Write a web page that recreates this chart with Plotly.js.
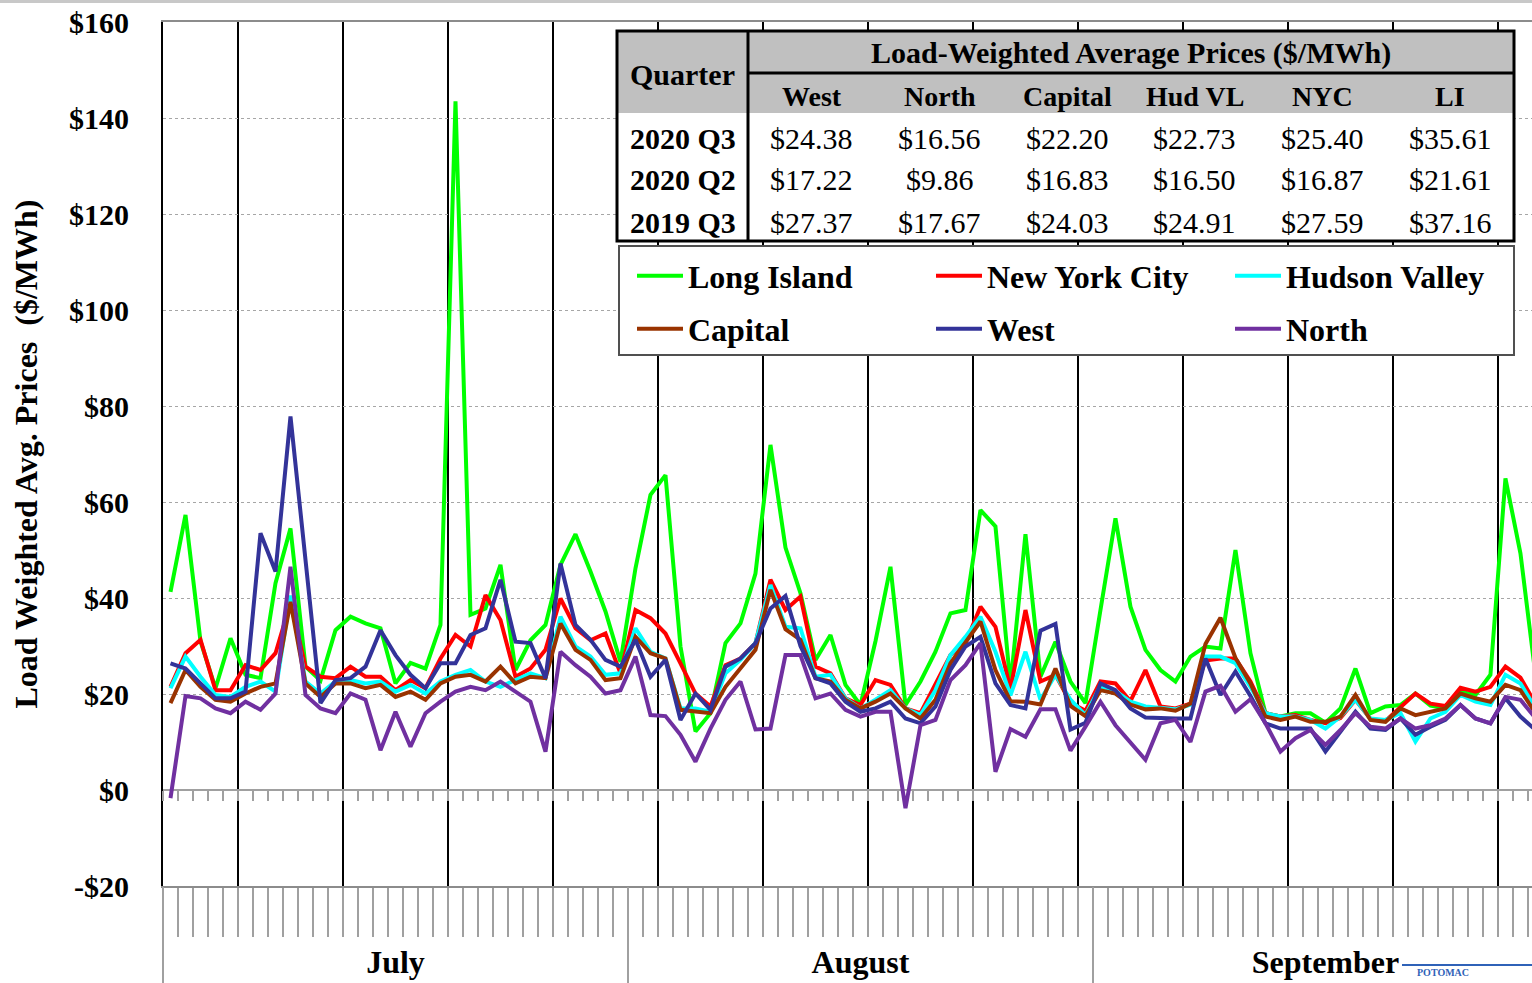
<!DOCTYPE html>
<html>
<head>
<meta charset="utf-8">
<script src="https://cdn.plot.ly/plotly-3.0.1.min.js"></script>
<style>
  html, body { margin: 0; padding: 0; background: #fff; overflow: hidden; }
  #chart { width: 1532px; height: 983px; }
</style>
</head>
<body>
<div id="chart"></div>
<script>
// Daily load-weighted average prices ($/MWh), Jul 1 - Sep 30 2020
const DAY = 86400000;
const dates = [];
for (let i = 0; i < 92; i++) {
    dates.push(new Date(Date.UTC(2020, 6, 1 + i, 12)).toISOString().slice(0, 10) + ' 12:00');
}

const longIsland = [
    41.3, 57.3, 31.0, 21.2, 31.6, 24.0, 23.3, 43.1, 54.5, 25.7,
    22.8, 33.3, 36.1, 34.7, 33.7, 22.2, 26.5, 25.3, 34.4, 143.5,
    36.5, 37.8, 46.9, 25.0, 31.2, 34.4, 46.9, 53.3, 45.5, 37.2,
    26.7, 46.2, 61.5, 65.6, 29.9, 12.2, 16.0, 30.6, 34.7, 45.1,
    71.9, 50.5, 41.0, 27.1, 32.3, 21.9, 17.7, 31.0, 46.5, 17.7,
    22.6, 28.8, 36.8, 37.5, 58.3, 54.9, 21.9, 53.3, 23.6, 30.9,
    22.6, 18.1, 37.5, 56.6, 38.2, 29.2, 25.0, 22.6, 27.8, 29.9,
    29.5, 50.0, 28.5, 16.0, 15.3, 16.0, 16.0, 14.0, 17.0, 25.3,
    16.0, 17.4, 17.7, 20.1, 17.6, 17.0, 20.5, 19.8, 24.0, 64.9,
    49.3, 24.0
];
const newYorkCity = [
    21.5, 28.5, 31.3, 20.8, 20.8, 26.0, 25.0, 28.5, 39.0, 25.7,
    23.6, 23.3, 25.7, 23.6, 23.6, 20.8, 22.9, 21.2, 27.4, 32.3,
    29.9, 40.6, 35.4, 23.6, 25.3, 29.2, 39.9, 33.7, 31.2, 32.6,
    24.3, 37.5, 35.8, 32.6, 26.4, 20.1, 17.4, 26.0, 27.4, 30.6,
    43.8, 37.5, 40.3, 25.7, 24.3, 19.1, 17.7, 22.9, 21.9, 17.0,
    16.0, 22.2, 28.1, 30.6, 38.2, 34.0, 21.0, 37.5, 22.6, 24.0,
    18.2, 16.5, 22.6, 22.2, 18.5, 25.0, 17.4, 17.0, 18.0, 27.0,
    27.4, 27.4, 22.6, 16.0, 15.3, 15.6, 14.6, 13.9, 15.0, 18.8,
    14.8, 14.4, 17.3, 20.1, 18.0, 17.5, 21.3, 20.5, 21.5, 25.7,
    23.4, 18.0
];
const hudsonValley = [
    21.2, 27.8, 23.6, 19.8, 19.4, 21.5, 22.6, 20.5, 40.5, 22.6,
    20.1, 22.6, 22.9, 22.2, 22.6, 20.5, 21.9, 20.1, 22.6, 24.0,
    25.0, 22.6, 21.5, 22.9, 24.3, 23.3, 36.1, 29.9, 27.8, 24.0,
    24.3, 33.7, 28.8, 27.4, 17.0, 17.0, 16.3, 24.3, 27.1, 30.6,
    42.7, 34.0, 33.7, 23.6, 24.0, 19.1, 17.0, 18.8, 20.8, 17.0,
    15.6, 20.8, 28.1, 31.9, 36.1, 28.8, 19.7, 28.8, 18.8, 24.0,
    18.8, 15.6, 21.7, 20.6, 18.4, 17.4, 17.2, 16.8, 17.8, 27.8,
    27.8, 26.4, 21.5, 16.0, 15.3, 15.3, 14.6, 12.8, 15.3, 18.8,
    14.9, 14.6, 16.0, 10.1, 14.9, 16.3, 19.8, 18.4, 17.7, 24.0,
    22.2, 17.0
];
const capital = [
    18.1, 25.0, 21.5, 18.8, 18.4, 20.1, 21.5, 22.2, 39.2, 22.2,
    19.4, 22.2, 22.2, 21.2, 21.9, 19.4, 20.5, 18.8, 22.2, 23.6,
    24.0, 22.6, 25.7, 22.2, 23.6, 23.3, 34.7, 29.2, 27.1, 22.9,
    23.3, 31.9, 28.5, 27.4, 16.7, 16.3, 16.0, 21.5, 25.3, 29.2,
    41.7, 33.5, 31.3, 23.3, 22.6, 18.8, 17.0, 18.4, 20.1, 17.0,
    14.9, 18.8, 26.4, 30.6, 35.1, 25.0, 18.5, 18.4, 17.8, 25.3,
    17.5, 15.4, 20.8, 20.1, 17.8, 16.8, 17.0, 16.5, 18.0, 30.4,
    35.9, 27.5, 22.2, 15.3, 14.6, 15.3, 14.2, 14.2, 15.3, 19.8,
    14.6, 14.2, 17.0, 15.6, 16.3, 17.0, 20.1, 19.1, 18.4, 21.9,
    20.8, 16.0
];
const west = [
    26.4, 25.3, 22.2, 19.1, 19.1, 20.5, 53.5, 45.5, 77.8, 47.0,
    18.1, 22.9, 23.3, 25.7, 33.3, 28.1, 24.0, 21.2, 26.4, 26.4,
    32.3, 33.7, 43.8, 30.9, 30.6, 23.3, 47.2, 34.4, 31.3, 27.1,
    25.7, 31.3, 23.6, 27.1, 14.6, 20.1, 16.7, 25.7, 27.4, 30.6,
    37.8, 40.4, 30.0, 23.3, 22.2, 18.4, 16.3, 17.0, 18.4, 14.9,
    13.9, 17.4, 25.0, 29.9, 31.9, 22.2, 17.7, 17.0, 33.2, 34.6,
    12.6, 14.0, 22.2, 20.8, 17.0, 15.1, 14.9, 14.9, 14.9, 27.4,
    19.8, 24.7, 19.6, 13.9, 12.8, 12.8, 12.8, 8.0, 12.2, 16.3,
    12.8, 12.5, 14.9, 11.5, 13.2, 14.6, 17.7, 14.9, 13.9, 19.1,
    15.3, 12.5
];
const north = [
    -1.7, 19.6, 19.1, 17.0, 16.0, 18.4, 16.7, 20.1, 46.5, 19.8,
    17.0, 16.0, 20.1, 18.8, 8.3, 16.3, 9.0, 16.0, 18.4, 20.5,
    21.5, 20.8, 22.6, 20.5, 18.4, 8.0, 28.8, 26.0, 23.6, 20.1,
    20.8, 27.8, 15.6, 15.4, 11.5, 5.9, 12.8, 18.8, 22.6, 12.6,
    12.8, 28.1, 28.1, 19.1, 20.1, 16.7, 15.3, 16.3, 16.3, -3.8,
    13.5, 14.6, 22.9, 26.0, 30.6, 3.8, 12.7, 11.1, 16.8, 16.8,
    8.2, 13.2, 18.4, 13.5, 9.9, 6.3, 13.9, 14.6, 10.0, 20.5,
    21.7, 16.3, 18.9, 13.9, 8.0, 10.8, 12.5, 9.4, 12.5, 16.0,
    13.2, 12.8, 14.9, 12.8, 13.5, 14.9, 17.7, 14.9, 13.9, 19.4,
    18.8, 15.0
];

// summary table
const quarters = ['2020 Q3', '2020 Q2', '2019 Q3'];
const zones = ['West', 'North', 'Capital', 'Hud VL', 'NYC', 'LI'];
const avg2020Q3 = [24.38, 16.56, 22.20, 22.73, 25.40, 35.61];
const avg2020Q2 = [17.22, 9.86, 16.83, 16.50, 16.87, 21.61];
const avg2019Q3 = [27.37, 17.67, 24.03, 24.91, 27.59, 37.16];

const yTickVals = [-20, 0, 20, 40, 60, 80, 100, 120, 140, 160];
const yTickText = ['-$20', '$0', '$20', '$40', '$60', '$80', '$100', '$120', '$140', '$160'];

const SERIF = '"Liberation Serif", "Times New Roman", serif';

// plot area in pixels: left 163, right 1532, top 22, bottom 886
const px = p => (p - 163) / 1369;
const py = p => (886 - p) / 864;

const series = [
    { name: 'Long Island', y: longIsland, color: '#00ff00', legend: 'legend' },
    { name: 'New York City', y: newYorkCity, color: '#ff0000', legend: 'legend' },
    { name: 'Hudson Valley', y: hudsonValley, color: '#00ffff', legend: 'legend' },
    { name: 'Capital', y: capital, color: '#993300', legend: 'legend2' },
    { name: 'West', y: west, color: '#333399', legend: 'legend2' },
    { name: 'North', y: north, color: '#7030a0', legend: 'legend2' }
];

const traces = series.map(s => ({
    type: 'scatter',
    mode: 'lines',
    x: dates,
    y: s.y,
    name: s.name,
    legend: s.legend,
    line: { color: s.color, width: 4 }
}));

// empty traces so the helper x axes get drawn
['x2', 'x3', 'x4'].forEach(ax => traces.push({
    type: 'scatter', mode: 'lines', x: [], y: [], xaxis: ax, yaxis: 'y',
    showlegend: false, hoverinfo: 'skip'
}));

const xRange = ['2020-07-01 00:00', '2020-09-30 06:30'];
const GRAY = '#a0a0a0';

// table geometry (pixels)
const tbl = { left: 617, right: 1514, top: 31, mid: 73, head: 113, bottom: 241, split: 748 };
const colW = (tbl.right - tbl.split) / zones.length;
const rowY = [138, 180, 222];

const shapes = [
    { type: 'rect', xref: 'paper', yref: 'paper', x0: -163 / 1369, x1: 1, y0: py(3), y1: py(0),
      fillcolor: '#c8c8c8', line: { width: 0 } },
    { type: 'rect', xref: 'paper', yref: 'paper', x0: px(tbl.left), x1: px(tbl.right), y0: py(tbl.bottom), y1: py(tbl.top),
      fillcolor: '#ffffff', line: { width: 0 } },
    { type: 'rect', xref: 'paper', yref: 'paper', x0: px(tbl.left), x1: px(tbl.right), y0: py(tbl.head), y1: py(tbl.top),
      fillcolor: '#c0c0c0', line: { width: 0 } },
    { type: 'line', xref: 'paper', yref: 'paper', x0: px(tbl.split), x1: px(tbl.right), y0: py(tbl.mid), y1: py(tbl.mid),
      line: { color: '#000', width: 3 } },
    { type: 'line', xref: 'paper', yref: 'paper', x0: px(tbl.split), x1: px(tbl.split), y0: py(tbl.bottom), y1: py(tbl.top),
      line: { color: '#000', width: 3 } },
    { type: 'rect', xref: 'paper', yref: 'paper', x0: px(tbl.left), x1: px(tbl.right), y0: py(tbl.bottom), y1: py(tbl.top),
      line: { color: '#000', width: 3 } },
    // legend frame
    { type: 'rect', xref: 'paper', yref: 'paper', x0: px(619), x1: px(1514), y0: py(355), y1: py(246),
      fillcolor: '#ffffff', line: { color: '#505050', width: 2 } },
    // logo rule, bottom right
    { type: 'line', xref: 'paper', yref: 'paper', x0: px(1402), x1: px(1540), y0: py(965), y1: py(965),
      line: { color: '#2f62b8', width: 2 } }
];

function label(text, x, y, size, weight) {
    return {
        xref: 'paper', yref: 'paper', x: px(x), y: py(y),
        xanchor: 'center', yanchor: 'middle', showarrow: false,
        text: text, font: { family: SERIF, size: size, color: '#000', weight: weight }
    };
}

const annotations = [
    label('Quarter', (tbl.left + tbl.split) / 2, 74, 30, 'bold'),
    label('Load-Weighted Average Prices ($/MWh)', (tbl.split + tbl.right) / 2, 53, 30, 'bold')
];
zones.forEach((z, k) => annotations.push(label(z, tbl.split + colW * (k + 0.5), 96, 28, 'bold')));
[avg2020Q3, avg2020Q2, avg2019Q3].forEach((row, r) => {
    annotations.push(label(quarters[r], (tbl.left + tbl.split) / 2, rowY[r], 30, 'bold'));
    row.forEach((v, k) => annotations.push(label('$' + v.toFixed(2), tbl.split + colW * (k + 0.5), rowY[r], 30, 'normal')));
});
annotations.push({
    xref: 'paper', yref: 'paper', x: px(1416), y: py(966), xanchor: 'left', yanchor: 'top', showarrow: false,
    borderpad: 0, text: 'POTOMAC', font: { family: SERIF, size: 10, color: '#2f62b8', weight: 'bold' }
});

function legendRow(yPix) {
    return {
        orientation: 'h',
        x: px(632), y: py(yPix), xanchor: 'left', yanchor: 'middle',
        bgcolor: 'rgba(0,0,0,0)', borderwidth: 0,
        font: { family: SERIF, size: 32, color: '#000', weight: 'bold' },
        entrywidth: 238, entrywidthmode: 'pixels',
        itemwidth: 46, traceorder: 'normal'
    };
}

const layout = {
    width: 1532,
    height: 983,
    margin: { l: 163, r: 0, t: 22, b: 97, pad: 0 },
    paper_bgcolor: '#fff',
    plot_bgcolor: '#fff',
    font: { family: SERIF, color: '#000', size: 28, weight: 'bold' },
    showlegend: true,
    legend: legendRow(276),
    legend2: legendRow(329),
    // daily ticks hang off the $0 line; weekly black grid
    xaxis: {
        type: 'date', range: xRange, anchor: 'free', position: 20 / 180,
        showgrid: true, gridcolor: '#000', gridwidth: 2,
        tick0: '2020-07-06', dtick: 7 * DAY,
        ticks: 'outside', ticklen: 10, tickcolor: GRAY, tickwidth: 1.5,
        showticklabels: false, showline: false, zeroline: false,
        minor: { tick0: '2020-07-01', dtick: DAY, ticks: 'outside', ticklen: 10,
                 tickcolor: GRAY, tickwidth: 1.5, showgrid: false }
    },
    // day ticks below the -$20 line
    xaxis2: {
        type: 'date', range: xRange, overlaying: 'x', anchor: 'y', side: 'bottom',
        tick0: '2020-07-01', dtick: DAY, ticks: 'outside', ticklen: 49, tickcolor: GRAY, tickwidth: 1.5,
        showticklabels: false, showgrid: false, zeroline: false,
        showline: true, linecolor: '#8c8c8c', linewidth: 2, mirror: true
    },
    // month separators
    xaxis3: {
        type: 'date', range: xRange, overlaying: 'x', anchor: 'y', side: 'bottom',
        tick0: '2020-07-01', dtick: 'M1', ticks: 'outside', ticklen: 97, tickcolor: GRAY, tickwidth: 1.5,
        showticklabels: false, showgrid: false, zeroline: false, showline: false
    },
    // month names centred in each month
    xaxis4: {
        type: 'date', range: xRange, overlaying: 'x', anchor: 'y', side: 'bottom',
        tick0: '2020-07-01', dtick: 'M1', ticklabelmode: 'period', tickformat: '%B',
        ticks: '', ticklabelstandoff: 54,
        tickfont: { family: SERIF, size: 32, color: '#000', weight: 'bold' },
        showgrid: false, zeroline: false, showline: false
    },
    yaxis: {
        range: [-20, 160], tickvals: yTickVals, ticktext: yTickText,
        showgrid: true, gridcolor: '#a6a6a6', griddash: 'dot', gridwidth: 1,
        zeroline: true, zerolinecolor: GRAY, zerolinewidth: 2,
        showline: true, linecolor: '#000', linewidth: 2,
        ticks: '', ticklabelstandoff: 26,
        tickfont: { family: SERIF, size: 30, color: '#000', weight: 'bold' },
        title: {
            text: 'Load Weighted Avg. Prices\u00a0 ($/MWh)',
            font: { family: SERIF, size: 32, color: '#000', weight: 'bold' },
            standoff: 22
        }
    },
    shapes: shapes,
    annotations: annotations
};

Plotly.newPlot('chart', traces, layout, { displayModeBar: false, responsive: false });
</script>
</body>
</html>
